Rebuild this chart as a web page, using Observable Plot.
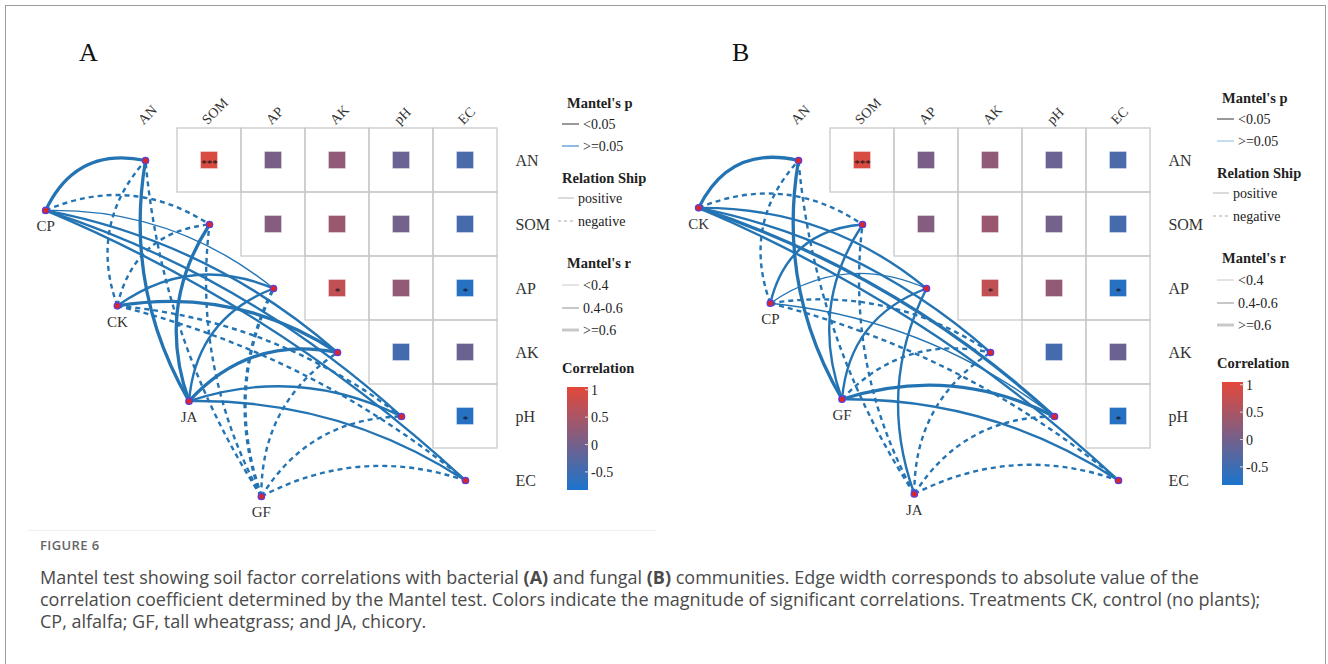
<!DOCTYPE html>
<html>
<head>
<meta charset="utf-8">
<script src="https://cdn.jsdelivr.net/npm/d3@7"></script>
<script src="https://cdn.jsdelivr.net/npm/@observablehq/plot@0.6"></script>
<style>
  html, body { margin: 0; padding: 0; background: #fff; width: 1328px; height: 664px; overflow: hidden; }
  #frame { position: absolute; left: 5px; top: 5px; width: 1321px; height: 720px; border: 1px solid #9b9b9b; box-sizing: border-box; }
  #panelA { position: absolute; left: 0; top: 0; }
  #panelB { position: absolute; left: 653px; top: 0; }
  #sep { position: absolute; left: 27px; top: 530px; width: 630px; height: 1px; background: #f1f1f1; }
  #figlabel { position: absolute; left: 40px; top: 536px; font-family: 'Open Sans', sans-serif; font-size: 13px; font-weight: 600; color: #666; letter-spacing: 0.4px; }
  #caption { position: absolute; left: 40px; top: 566px; font-family: 'Open Sans', sans-serif; font-size: 18px; line-height: 22px; color: #4a4a4a; white-space: nowrap; }
  #caption b { font-weight: 700; }
</style>
</head>
<body>
<div id="frame"></div>
<div id="panelA"></div>
<div id="panelB"></div>
<div id="sep"></div>
<div id="figlabel">FIGURE 6</div>
<div id="caption">Mantel test showing soil factor correlations with bacterial <b>(A)</b> and fungal <b>(B)</b> communities. Edge width corresponds to absolute value of the<br>correlation coefficient determined by the Mantel test. Colors indicate the magnitude of significant correlations. Treatments CK, control (no plants);<br>CP, alfalfa; GF, tall wheatgrass; and JA, chicory.</div>
<script>
// ---------------- data ----------------
const soilFactors = ["AN", "SOM", "AP", "AK", "pH", "EC"];

// upper-triangle correlations between soil factors
const corrRow   = ["AN", "AN", "AN", "AN", "AN", "SOM", "SOM", "SOM", "SOM", "AP", "AP", "AP", "AK", "AK", "pH"];
const corrCol   = ["SOM", "AP", "AK", "pH", "EC", "AP", "AK", "pH", "EC", "AK", "pH", "EC", "pH", "EC", "EC"];
const corrValue = [0.93, 0.05, 0.27, -0.09, -0.39, 0.15, 0.35, 0.0, -0.43, 0.71, 0.29, -0.72, -0.45, -0.07, -0.72];
const corrSig   = ["***", "", "", "", "", "", "", "", "", "*", "", "*", "", "", "*"];

// treatment nodes (layout position in heatmap cell units)
const treatmentsA = ["CP", "CK", "JA", "GF"];
const treatmentsB = ["CK", "CP", "GF", "JA"];
const layoutU  = [-1.56, -0.44, 0.68, 1.81];
const layoutVA = [0.78, 2.27, 3.76, 5.25];
const layoutVB = [0.74, 2.23, 3.73, 5.21];

// Mantel's r (sign = relationship) for each treatment x soil factor [AN, SOM, AP, AK, pH, EC]
const mantelA = [
  [0.65, -0.45, 0.30, 0.50, 0.55, 0.45],   // CP
  [-0.45, -0.45, 0.45, 0.60, -0.45, -0.40], // CK
  [0.65, 0.60, 0.50, 0.65, 0.55, 0.50],     // JA
  [-0.50, -0.50, -0.60, -0.45, -0.45, -0.55] // GF
];
const mantelB = [
  [0.65, -0.50, 0.55, 0.50, 0.60, 0.55],    // CK
  [-0.45, 0.45, 0.30, -0.45, 0.30, -0.40],  // CP
  [0.60, 0.55, 0.50, -0.45, 0.65, 0.55],    // GF
  [-0.50, -0.50, 0.50, -0.45, -0.40, -0.45] // JA
];

const colorTicks = [1, 0.5, 0, -0.5];

// ---------------- styles ----------------
const SERIF = "'Liberation Serif', 'Times New Roman', serif";
const EDGE = "#2474b3";
const colorDomain = [-0.83, 1.05];
const colorRange = ["#1b74cc", "#e4483a"];
const BEND = 22;

// custom curve: quadratic arc bending to the left of the link direction
const bendCurve = (ctx) => {
  let pts = [];
  return {
    areaStart() {}, areaEnd() {},
    lineStart() { pts = []; },
    point(x, y) { pts.push([x, y]); },
    lineEnd() {
      const [[x1, y1], [x2, y2]] = pts;
      const dx = x2 - x1, dy = y2 - y1, L = Math.hypot(dx, dy) || 1;
      const nx = dy / L, ny = -dx / L;
      const cx = (x1 + x2) / 2 + 2 * BEND * nx, cy = (y1 + y2) / 2 + 2 * BEND * ny;
      ctx.moveTo(x1, y1);
      ctx.quadraticCurveTo(cx, cy, x2, y2);
    }
  };
};

const widthOf = (r) => Math.abs(r) >= 0.6 ? 3.3 : Math.abs(r) >= 0.4 ? 2.4 : 1.4;

function makePanel(treatments, mantel, layoutV, letter, lx, ly, pHighColor, gid) {
  const cells = corrRow.map((r, k) => ({
    i: soilFactors.indexOf(r), j: soilFactors.indexOf(corrCol[k]), v: corrValue[k], s: corrSig[k]
  }));
  const nodes = treatments.map((t, k) => ({name: t, u: layoutU[k], v: layoutV[k]}));
  const edges = nodes.flatMap((n, k) => soilFactors.map((f, i) => ({u: n.u, v: n.v, i, r: mantel[k][i]})));
  const half = 0.133;
  const svg = Plot.plot({
    width: 653, height: 530, margin: 0,
    style: {background: "transparent", fontFamily: SERIF, overflow: "visible"},
    x: {type: "linear", domain: [0, 5], range: [145, 465], axis: null},
    y: {type: "linear", domain: [0, 5], range: [160, 480], axis: null},
    color: {type: "linear", domain: colorDomain, range: colorRange, interpolate: "rgb"},
    marks: [
      Plot.rect(cells, {x1: d => d.j - 0.5, x2: d => d.j + 0.5, y1: d => d.i - 0.5, y2: d => d.i + 0.5,
        fill: "none", stroke: "#c9c9c9", strokeWidth: 1.3}),
      Plot.rect(cells, {x1: d => d.j - half, x2: d => d.j + half, y1: d => d.i - half, y2: d => d.i + half,
        fill: "v", stroke: "#ffffff", strokeOpacity: 0.45, strokeWidth: 0.8}),
      Plot.text(cells.filter(d => d.s), {x: "j", y: "i", text: "s", fontSize: 11, dy: 3, fill: "#111"}),
      Plot.text(soilFactors, {x: (d, i) => i - 0.08, y: -0.6, text: d => d, rotate: -45, textAnchor: "start",
        fontSize: 14, fill: "#333"}),
      Plot.text(soilFactors, {x: 5.78, y: (d, i) => i, text: d => d, textAnchor: "start", fontSize: 16, fill: "#333"}),
      Plot.link(edges.filter(d => d.r > 0), {x1: "u", y1: "v", x2: "i", y2: "i", stroke: EDGE,
        strokeWidth: d => widthOf(d.r), curve: bendCurve}),
      Plot.link(edges.filter(d => d.r < 0), {x1: "u", y1: "v", x2: "i", y2: "i", stroke: EDGE,
        strokeWidth: d => widthOf(d.r), strokeDasharray: "5,4", curve: bendCurve}),
      Plot.dot(soilFactors, {x: (d, i) => i, y: (d, i) => i, r: 3.2, fill: "#d8262a", stroke: "#5a3fe0", strokeWidth: 1.3}),
      Plot.dot(nodes, {x: "u", y: "v", r: 3.2, fill: "#d8262a", stroke: "#5a3fe0", strokeWidth: 1.3}),
      Plot.text(nodes, {x: "u", y: "v", text: "name", dy: 16, fontSize: 15, fill: "#333"})
    ]
  });

  const root = d3.select(svg);
  root.append("text").attr("x", 79).attr("y", 61).attr("font-family", SERIF).attr("font-size", 26)
    .attr("text-anchor", "start").attr("fill", "#111").text(letter);

  const g = root.append("g").attr("transform", `translate(${lx},${ly})`)
    .attr("font-family", SERIF).attr("font-size", 14).attr("fill", "#222").attr("text-anchor", "start");
  const title = (x, y, t) => g.append("text").attr("x", x).attr("y", y).attr("font-weight", "bold")
    .attr("text-anchor", "start").attr("font-size", 14.5).text(t);
  const item = (x1, x2, y, t, stroke, w, dash) => {
    g.append("line").attr("x1", x1).attr("x2", x2).attr("y1", y).attr("y2", y)
      .attr("stroke", stroke).attr("stroke-width", w).attr("stroke-dasharray", dash || null);
    g.append("text").attr("x", x2 + 4).attr("y", y + 5).attr("text-anchor", "start").text(t);
  };
  title(567, 108, "Mantel's p");
  item(562, 579, 124, "<0.05", "#555", 1.2);
  item(562, 579, 146, ">=0.05", pHighColor, 1.2);
  title(562, 183, "Relation Ship");
  item(558, 574, 198, "positive", "#c4c4c4", 1.2);
  item(558, 574, 221, "negative", "#aaaaaa", 1.2, "3,3");
  title(567, 268, "Mantel's r");
  item(562, 579, 285, "<0.4", "#c8c8c8", 1);
  item(562, 579, 308, "0.4-0.6", "#c8c8c8", 2);
  item(562, 579, 330, ">=0.6", "#c8c8c8", 3);
  title(562, 373, "Correlation");

  const ys = d3.scaleLinear().domain(colorDomain).range([490, 387]);
  const grad = root.append("defs").append("linearGradient").attr("id", gid)
    .attr("x1", 0).attr("y1", 1).attr("x2", 0).attr("y2", 0);
  const cs = d3.scaleLinear().domain(colorDomain).range(colorRange).interpolate(d3.interpolateRgb);
  d3.range(0, 1.0001, 0.1).forEach(t => {
    grad.append("stop").attr("offset", t).attr("stop-color", cs(colorDomain[0] + t * (colorDomain[1] - colorDomain[0])));
  });
  g.append("rect").attr("x", 567).attr("y", 387).attr("width", 21).attr("height", 103).attr("fill", `url(#${gid})`);
  colorTicks.forEach(v => {
    g.append("line").attr("x1", 585).attr("x2", 589).attr("y1", ys(v)).attr("y2", ys(v))
      .attr("stroke", "#dddddd").attr("stroke-width", 1);
    g.append("text").attr("x", 591).attr("y", ys(v) + 5).attr("text-anchor", "start").text(v);
  });
  return svg;
}

document.getElementById("panelA").appendChild(
  makePanel(treatmentsA, mantelA, layoutVA, "A", 0, 0, "#4a90d0", "gradA"));
document.getElementById("panelB").appendChild(
  makePanel(treatmentsB, mantelB, layoutVB, "B", 2, -5, "#9cc6ec", "gradB"));
</script>
</body>
</html>
